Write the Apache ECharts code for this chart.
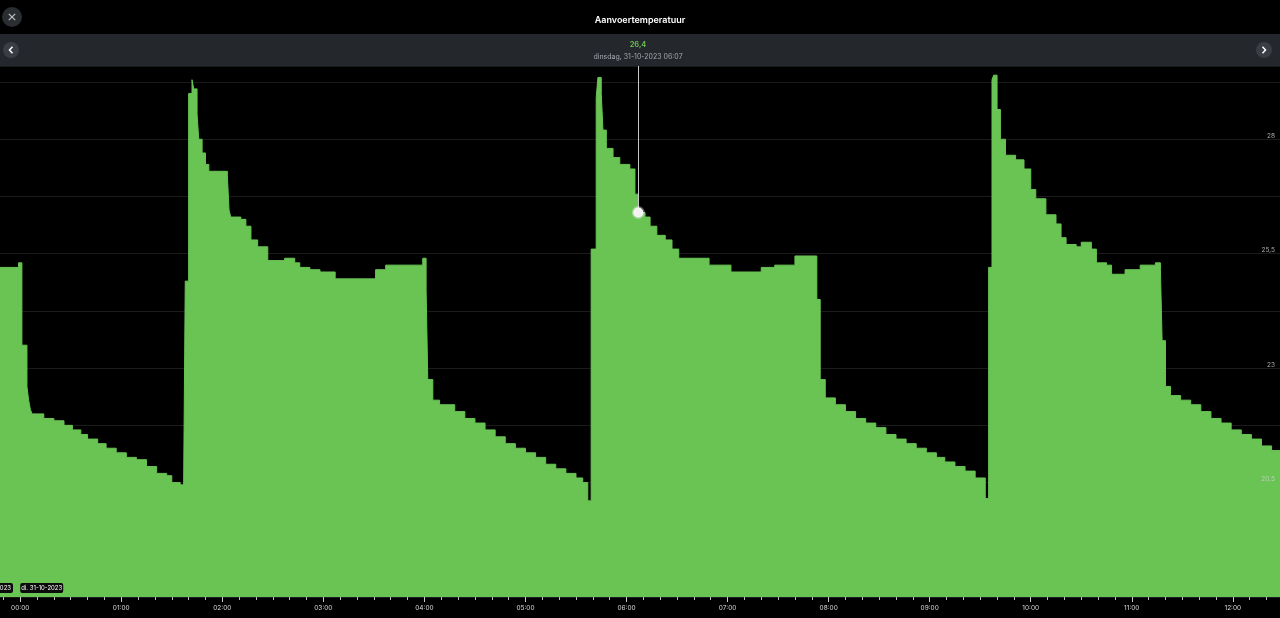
<!DOCTYPE html>
<html>
<head>
<meta charset="utf-8">
<script src="https://cdn.jsdelivr.net/npm/echarts@6/dist/echarts.min.js"></script>
<style>
html, body {margin:0; padding:0; background:#000;}
#chart {width:1280px; height:618px;}
</style>
</head>
<body>
<div id="chart"></div>
<script>
// meetmomenten (tijd waarop de waarde verandert) en aanvoertemperatuur
var tijden = [
  '23:48','23:59','00:01','00:04','00:05','00:06','00:07','00:14','00:20','00:26',
  '00:31','00:36','00:40','00:46','00:51','00:57','01:03','01:09','01:15','01:21',
  '01:27','01:30','01:35','01:37','01:38','01:40','01:42','01:43','01:45','01:46',
  '01:48','01:50','01:52','02:03','02:04','02:05','02:11','02:14','02:17','02:21',
  '02:27','02:37','02:43','02:46','02:52','02:58','03:07','03:31','03:37','03:59',
  '04:01','04:02','04:05','04:09','04:18','04:24','04:30','04:36','04:42','04:48',
  '04:54','05:00','05:06','05:12','05:18','05:24','05:30','05:34','05:37','05:39',
  '05:42','05:43','05:45','05:46','05:48','05:52','05:56','06:02','06:05','06:07',
  '06:11','06:14','06:18','06:23','06:27','06:31','06:49','07:02','07:20','07:28',
  '07:40','07:53','07:55','07:58','08:04','08:10','08:16','08:22','08:28','08:34',
  '08:40','08:46','08:52','08:58','09:04','09:09','09:15','09:21','09:27','09:33',
  '09:35','09:37','09:38','09:40','09:42','09:45','09:51','09:56','10:00','10:03',
  '10:09','10:15','10:18','10:21','10:27','10:30','10:36','10:39','10:45','10:48',
  '10:56','11:05','11:14','11:17','11:18','11:20','11:23','11:29','11:35','11:41',
  '11:47','11:53','11:59','12:05','12:11','12:17','12:23','12:28'
];
var temperaturen = [
  25.2, 25.3, 23.5, 22.6, 22.3, 22.1, 22.0, 21.9, 21.85, 21.75,
  21.65, 21.55, 21.45, 21.35, 21.25, 21.15, 21.05, 21.0, 20.85, 20.7,
  20.65, 20.5, 20.45, 20.3, 24.9, 29.0, 29.3, 29.1, 28.55, 28.0,
  27.7, 27.45, 27.3, 27.2, 26.45, 26.3, 26.25, 26.1, 25.8, 25.65,
  25.35, 25.4, 25.3, 25.2, 25.15, 25.1, 24.95, 25.15, 25.25, 25.4,
  24.7, 22.75, 22.3, 22.2, 22.05, 21.9, 21.8, 21.65, 21.5, 21.35,
  21.25, 21.15, 21.05, 20.9, 20.8, 20.7, 20.6, 20.5, 20.1, 25.6,
  28.9, 29.35, 29.0, 28.2, 27.8, 27.6, 27.45, 27.35, 26.8, 26.4,
  26.3, 26.1, 25.9, 25.8, 25.6, 25.4, 25.25, 25.1, 25.2, 25.25,
  25.45, 24.5, 22.75, 22.35, 22.2, 22.05, 21.9, 21.8, 21.7, 21.55,
  21.45, 21.35, 21.25, 21.15, 21.05, 20.95, 20.85, 20.75, 20.6, 20.15,
  25.2, 29.3, 29.4, 28.65, 28.0, 27.65, 27.55, 27.35, 26.9, 26.7,
  26.35, 26.15, 25.85, 25.7, 25.65, 25.75, 25.6, 25.3, 25.25, 25.05,
  25.15, 25.25, 25.3, 25.15, 23.6, 22.6, 22.4, 22.3, 22.2, 22.05,
  21.9, 21.8, 21.65, 21.55, 21.45, 21.3, 21.2, 21.1
];
var uurLabels = ['00:00','01:00','02:00','03:00','04:00','05:00','06:00','07:00','08:00','09:00','10:00','11:00','12:00'];
var yLabels = [20.5, 23, 25.5, 28];
var geselecteerd = '06:07';
var dagLabels = ['ma. 30-10-2023', 'di. 31-10-2023'];

// tijd 'HH:MM' -> minuten vanaf di. 31-10 00:00 (23:xx hoort bij de dag ervoor)
function mins(t) {
    var h = +t.split(':')[0], m = +t.split(':')[1];
    if (h >= 20) h -= 24;
    return h * 60 + m;
}
function pad(n) { return n < 10 ? '0' + n : '' + n; }
function fmtTijd(v) {
    var m = ((Math.round(v) % 1440) + 1440) % 1440;
    return pad(Math.floor(m / 60)) + ':' + pad(m % 60);
}

var data = [];
for (var i = 0; i < tijden.length; i++) {
    data.push([mins(tijden[i]), temperaturen[i]]);
}
var xMin = mins('23:48'), xMax = mins('12:28');
var uren = uurLabels.map(mins);
var tienMin = [];
for (var t = -10; t <= xMax; t += 10) tienMin.push(t);

var selIdx = tijden.indexOf(geselecteerd);
var selX = mins(geselecteerd), selVal = temperaturen[selIdx];
var groen = '#69c454';

var myChart = echarts.init(document.getElementById('chart'));
var option = {
    backgroundColor: '#000',
    animation: false,
    title: {
        text: 'Aanvoertemperatuur',
        left: 'center',
        top: 11,
        textStyle: {color: '#fff', fontSize: 9, fontWeight: 600, fontFamily: 'Inter'}
    },
    grid: {left: 0, right: 0, top: 66, bottom: 21},
    xAxis: [{
        type: 'value',
        min: xMin,
        max: xMax,
        axisLine: {show: false},
        splitLine: {show: false},
        axisTick: {show: true, customValues: tienMin, length: 3, lineStyle: {color: '#bbb', width: 1}},
        axisLabel: {
            customValues: uren,
            color: '#ddd',
            fontSize: 6.5,
            fontFamily: 'Inter',
            margin: 8,
            formatter: fmtTijd
        }
    }, {
        type: 'value',
        position: 'bottom',
        min: xMin,
        max: xMax,
        axisLine: {show: false},
        splitLine: {show: false},
        axisTick: {show: true, customValues: uren, length: 5, lineStyle: {color: '#ccc', width: 1}},
        axisLabel: {show: false}
    }],
    yAxis: [{
        type: 'value',
        position: 'right',
        min: 18,
        max: 29.6,
        interval: 1.25,
        axisLine: {show: false},
        axisTick: {show: false},
        axisLabel: {show: false},
        splitLine: {lineStyle: {color: '#1b1b1b', width: 1}}
    }, {
        type: 'value',
        position: 'right',
        min: 18,
        max: 29.6,
        z: 10,
        axisLine: {show: false},
        axisTick: {show: false},
        splitLine: {show: false},
        axisLabel: {
            inside: true,
            customValues: yLabels,
            margin: 5,
            verticalAlign: 'bottom',
            color: 'rgba(210,210,210,0.8)',
            fontSize: 6.5,
            fontFamily: 'Inter',
            formatter: function (v) { return String(v).replace('.', ','); }
        }
    }],
    series: [{
        name: 'Aanvoertemperatuur',
        type: 'line',
        step: 'end',
        symbol: 'none',
        data: data,
        lineStyle: {color: groen, width: 1},
        areaStyle: {color: groen, opacity: 1, origin: 'start'},
        markLine: {
            silent: true,
            symbol: 'none',
            label: {show: false},
            lineStyle: {color: '#c8c8c8', width: 1, type: 'solid'},
            data: [[{coord: [selX, selVal]}, {coord: [selX, 29.6]}]]
        },
        markPoint: {
            symbol: 'circle',
            symbolSize: 10,
            label: {show: false},
            itemStyle: {color: '#f2f2f2', borderColor: 'rgba(255,255,255,0.35)', borderWidth: 3},
            data: [{coord: [selX, selVal]}]
        }
    }]
};
myChart.setOption(option);

// kopbalk, knoppen en datumlabels
var subTekst = 'dinsdag, 31-10-2023 ' + fmtTijd(selX);
var x0 = myChart.convertToPixel({xAxisIndex: 0}, mins('00:00'));

myChart.setOption({
    graphic: [
        {type: 'rect', z: -1, shape: {x: 0, y: 34, width: 1280, height: 32}, style: {fill: '#24272b'}},
        {type: 'text', x: 638, y: 44.5, style: {text: String(selVal).replace('.', ','), fill: '#6cc655', font: '600 7.5px Inter', align: 'center', verticalAlign: 'middle'}},
        {type: 'text', x: 638, y: 57, style: {text: subTekst, fill: '#a4a8ae', font: '7px Inter', align: 'center', verticalAlign: 'middle'}},
        {type: 'circle', shape: {cx: 12, cy: 17, r: 10}, style: {fill: '#2a2d31'}},
        {type: 'line', shape: {x1: 8.8, y1: 13.8, x2: 15.2, y2: 20.2}, style: {stroke: '#c0c0c0', lineWidth: 1.2}},
        {type: 'line', shape: {x1: 15.2, y1: 13.8, x2: 8.8, y2: 20.2}, style: {stroke: '#c0c0c0', lineWidth: 1.2}},
        {type: 'circle', shape: {cx: 11, cy: 50, r: 8}, style: {fill: '#3a3e44'}},
        {type: 'polyline', shape: {points: [[12.5, 46.8], [9.5, 50], [12.5, 53.2]]}, style: {stroke: '#fff', lineWidth: 1.5, fill: null}},
        {type: 'circle', shape: {cx: 1264, cy: 50, r: 8}, style: {fill: '#3a3e44'}},
        {type: 'polyline', shape: {points: [[1262.5, 46.8], [1265.5, 50], [1262.5, 53.2]]}, style: {stroke: '#fff', lineWidth: 1.5, fill: null}},
        {type: 'rect', z: 20, shape: {x: -35, y: 583, width: 48, height: 10, r: 2}, style: {fill: '#0b0b0b'}},
        {type: 'text', z: 21, x: 11, y: 588, style: {text: dagLabels[0], fill: '#fff', font: '6px Inter', align: 'right', verticalAlign: 'middle'}},
        {type: 'rect', z: 20, shape: {x: x0, y: 583, width: 43, height: 10, r: 2}, style: {fill: '#0b0b0b'}},
        {type: 'text', z: 21, x: x0 + 21.5, y: 588, style: {text: dagLabels[1], fill: '#fff', font: '6px Inter', align: 'center', verticalAlign: 'middle'}}
    ]
});
</script>
</body>
</html>
